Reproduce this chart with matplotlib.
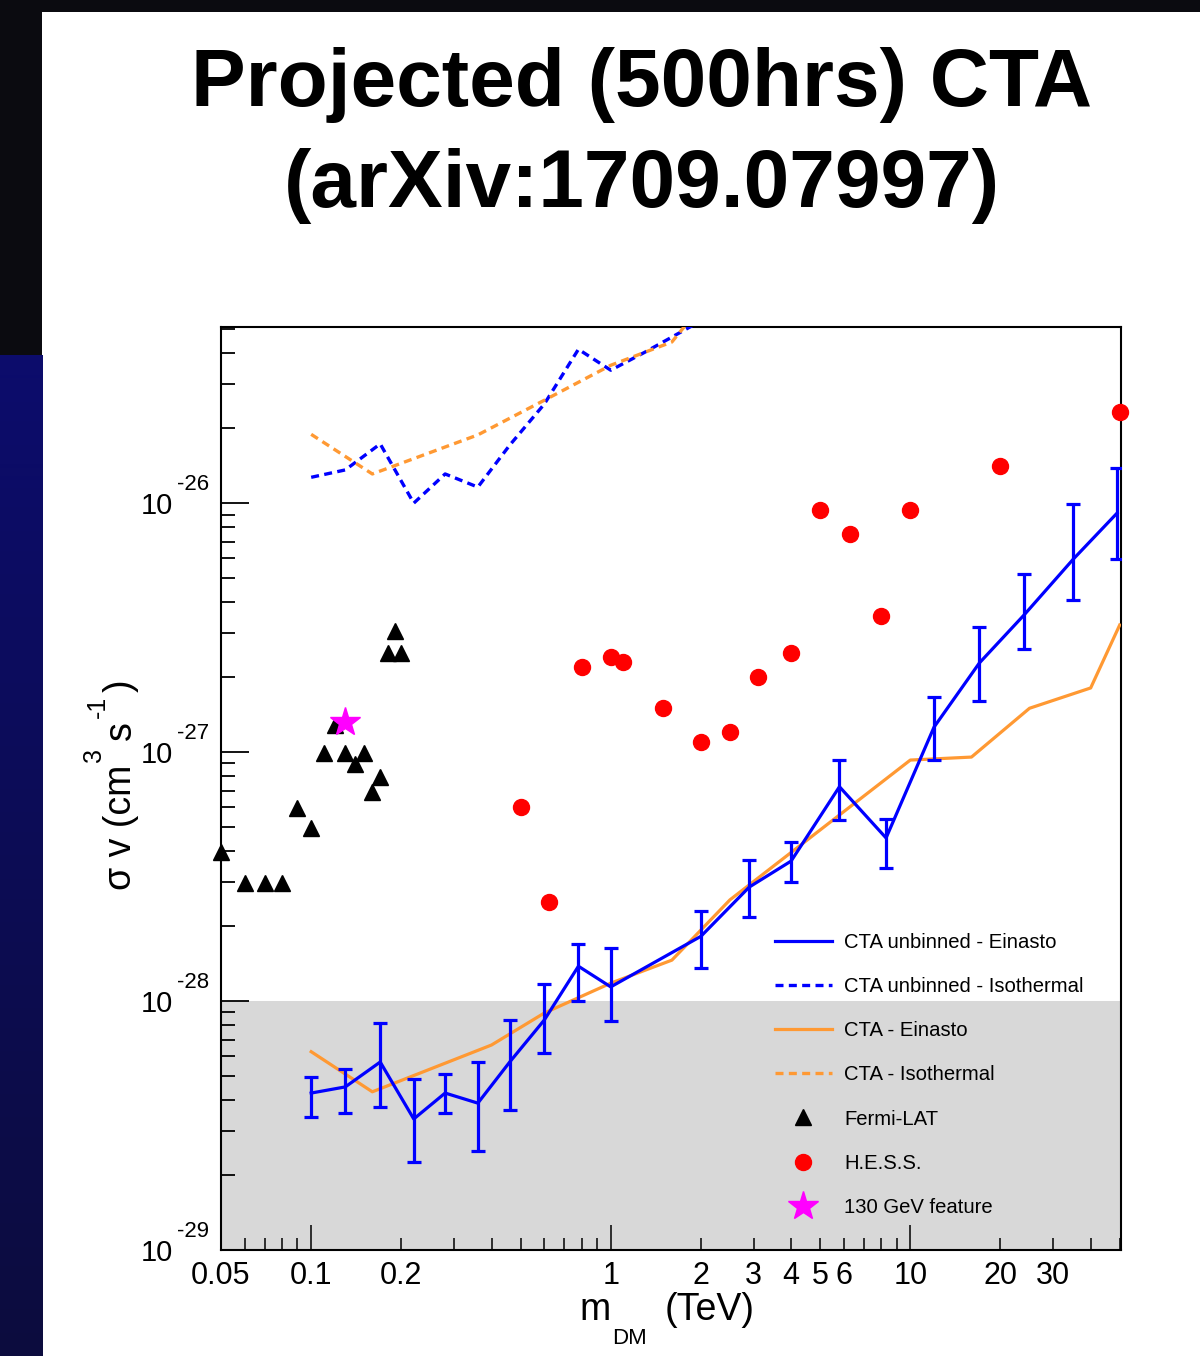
import matplotlib
matplotlib.use("Agg")
import matplotlib.pyplot as plt
import matplotlib.transforms as mtransforms
import numpy as np
from matplotlib.patches import Rectangle
from matplotlib.ticker import FixedLocator, FixedFormatter, NullFormatter

plt.rcParams["font.family"] = ["Liberation Sans", "DejaVu Sans"]

# CTA unbinned - Einasto (with error bars)
unb_ein_m = [0.1, 0.13, 0.17, 0.22, 0.28, 0.36, 0.46, 0.6, 0.78, 1.0,
             2.0, 2.9, 4.0, 5.8, 8.3, 12.0, 17.0, 24.0, 35.0, 49.0]
unb_ein_sv = [4.27e-29, 4.52e-29, 5.69e-29, 3.36e-29, 4.27e-29, 3.89e-29, 5.69e-29, 8.39e-29, 1.38e-28, 1.14e-28,
              1.82e-28, 2.87e-28, 3.65e-28, 7.26e-28, 4.52e-28, 1.26e-27, 2.28e-27, 3.56e-27, 5.96e-27, 9.12e-27]
unb_ein_hi = [4.95e-29, 5.33e-29, 8.16e-29, 4.86e-29, 5.09e-29, 5.69e-29, 8.39e-29, 1.17e-28, 1.69e-28, 1.63e-28,
              2.30e-28, 3.68e-28, 4.35e-28, 9.29e-28, 5.38e-28, 1.66e-27, 3.18e-27, 5.19e-27, 9.9e-27, 1.38e-26]
unb_ein_lo = [3.42e-29, 3.55e-29, 3.75e-29, 2.26e-29, 3.55e-29, 2.50e-29, 3.65e-29, 6.18e-29, 1.0e-28, 8.3e-29,
              1.36e-28, 2.17e-28, 3.0e-28, 5.33e-28, 3.42e-28, 9.29e-28, 1.60e-27, 2.59e-27, 4.07e-27, 5.96e-27]

# CTA unbinned - Isothermal
unb_iso_m = [0.1, 0.13, 0.17, 0.22, 0.28, 0.36, 0.46, 0.6, 0.78, 1.0, 1.3, 2.0]
unb_iso_sv = [1.27e-26, 1.36e-26, 1.73e-26, 1.0e-26, 1.31e-26, 1.16e-26, 1.71e-26, 2.50e-26, 4.15e-26, 3.42e-26,
              4.04e-26, 5.4e-26]

# CTA - Einasto
cta_ein_m = [0.1, 0.16, 0.4, 0.6, 1.0, 1.6, 2.5, 10.0, 16.0, 25.0, 40.0, 50.0]
cta_ein_sv = [6.26e-29, 4.32e-29, 6.66e-29, 8.95e-29, 1.18e-28, 1.46e-28, 2.55e-28, 9.29e-28, 9.55e-28, 1.50e-27,
              1.81e-27, 3.24e-27]

# CTA - Isothermal
cta_iso_m = [0.1, 0.16, 0.36, 0.6, 1.0, 1.6, 2.5]
cta_iso_sv = [1.89e-26, 1.31e-26, 1.88e-26, 2.59e-26, 3.58e-26, 4.44e-26, 8.6e-26]

# Fermi-LAT
fermi_m = [0.05, 0.06, 0.07, 0.08, 0.09, 0.1, 0.11, 0.12, 0.13, 0.14, 0.15, 0.16, 0.17, 0.18, 0.19, 0.2]
fermi_sv = [3.97e-28, 2.98e-28, 2.98e-28, 2.98e-28, 5.96e-28, 4.95e-28, 9.9e-28, 1.28e-27, 9.9e-28, 8.95e-28,
            9.9e-28, 6.9e-28, 7.94e-28, 2.50e-27, 3.06e-27, 2.50e-27]

# H.E.S.S.
hess_m = [0.5, 0.62, 0.8, 1.0, 1.1, 1.5, 2.0, 2.5, 3.1, 4.0, 5.0, 6.3, 8.0, 10.0, 20.0, 50.0]
hess_sv = [6.0e-28, 2.5e-28, 2.19e-27, 2.41e-27, 2.30e-27, 1.50e-27, 1.10e-27, 1.20e-27, 2.0e-27, 2.5e-27,
           9.37e-27, 7.51e-27, 3.52e-27, 9.37e-27, 1.41e-26, 2.32e-26]

# 130 GeV feature
line_m = [0.13]
line_sv = [1.32e-27]

x_tick_labels = {0.05: "0.05", 0.1: "0.1", 0.2: "0.2", 1: "1", 2: "2", 3: "3", 4: "4",
                 5: "5", 6: "6", 10: "10", 20: "20", 30: "30"}
y_decades = [-29, -28, -27, -26]

BLUE = "#0000ff"
ORANGE = "#ff9933"

W, H = 1200, 1356
PX = 72.0 / 100  # points per pixel
fig = plt.figure(figsize=(W / 100, H / 100), dpi=100, facecolor="#0b0b10")

# slide background: white panel, navy strip on the left
fig.patches.append(Rectangle((42 / W, 0), 1 - 42 / W, (H - 12) / H, transform=fig.transFigure,
                             facecolor="white", edgecolor="none", zorder=-10))
strip = fig.add_axes([0, 0, 42 / W, (H - 355) / H])
strip.set_axis_off()
grad = np.linspace(0, 1, 256).reshape(-1, 1)
top_c = np.array([12, 12, 108]) / 255
bot_c = np.array([12, 12, 62]) / 255
img = (top_c[None, None, :] * (1 - grad[:, :, None]) + bot_c[None, None, :] * grad[:, :, None])
strip.imshow(img, aspect="auto", extent=[0, 1, 0, 1], origin="upper")

fig.text(642 / W, 1 - 85 / H, "Projected (500hrs) CTA", ha="center", va="center",
         fontsize=59, fontweight="bold", color="black")
fig.text(642 / W, 1 - 186 / H, "(arXiv:1709.07997)", ha="center", va="center",
         fontsize=59, fontweight="bold", color="black")

ax = fig.add_axes([221 / W, 106 / H, 900 / W, 923 / H])
ax.set_zorder(5)
ax.set_xscale("log")
ax.set_yscale("log")
ax.set_xlim(0.05, 50.5)
ax.set_ylim(1e-29, 5.1e-26)
ax.set_facecolor("white")

ax.axhspan(1e-29, 1e-28, facecolor="#d8d8d8", edgecolor="none", zorder=0)

ax.plot(unb_ein_m, unb_ein_sv, color=BLUE, lw=2.3, zorder=4, label="CTA unbinned - Einasto")
ein = np.array(unb_ein_sv)
yerr = [ein - np.array(unb_ein_lo), np.array(unb_ein_hi) - ein]
ax.errorbar(unb_ein_m, unb_ein_sv, yerr=yerr, fmt="none", ecolor=BLUE, elinewidth=2.3,
            capsize=4.8, capthick=2.3, zorder=4)
ax.plot(unb_iso_m, unb_iso_sv, color=BLUE, lw=2.4, dashes=(2.4, 1.6), zorder=3,
        label="CTA unbinned - Isothermal")
ax.plot(cta_ein_m, cta_ein_sv, color=ORANGE, lw=2.3, zorder=3, label="CTA - Einasto")
ax.plot(cta_iso_m, cta_iso_sv, color=ORANGE, lw=2.4, dashes=(2.4, 1.6), zorder=3,
        label="CTA - Isothermal")
ax.plot(fermi_m, fermi_sv, ls="none", marker="^", ms=11, color="black", zorder=5,
        clip_on=False, label="Fermi-LAT")
ax.plot(hess_m, hess_sv, ls="none", marker="o", ms=11.5, color="#ff0000", zorder=5,
        clip_on=False, label="H.E.S.S.")
ax.plot(line_m, line_sv, ls="none", marker="*", ms=22, color="#ff00ff", mec="#ff00ff", zorder=6,
        label="130 GeV feature")

ax.legend(loc="upper left", bbox_to_anchor=((775 - 221) / 900, (1250 - 933) / 923),
          frameon=False, fontsize=14.6, handlelength=2.8, handletextpad=0.62,
          labelspacing=1.24, borderpad=0, borderaxespad=0)

# axis ticks, ROOT style
ax.xaxis.set_major_locator(FixedLocator([0.1, 1, 10]))
minor_x = [v * d for d in (0.01, 0.1, 1, 10) for v in range(2, 10) if 0.05 <= v * d <= 50]
ax.xaxis.set_minor_locator(FixedLocator(minor_x))
ax.xaxis.set_major_formatter(FixedFormatter(["0.1", "1", "10"]))
ax.xaxis.set_minor_formatter(FixedFormatter([x_tick_labels.get(round(v, 3), "") for v in minor_x]))

ax.yaxis.set_major_locator(FixedLocator([10.0 ** d for d in y_decades]))
ax.yaxis.set_major_formatter(NullFormatter())
minor_y = [v * 10.0 ** d for d in (-29, -28, -27, -26) for v in range(2, 10) if v * 10.0 ** d < 5.1e-26]
ax.yaxis.set_minor_locator(FixedLocator(minor_y))
ax.yaxis.set_minor_formatter(NullFormatter())

ax.tick_params(axis="x", which="major", direction="in", length=18, width=1.1, labelsize=22, pad=8,
               top=False)
ax.tick_params(axis="x", which="minor", direction="in", length=9, width=1.1, labelsize=22, pad=8,
               top=False)
ax.tick_params(axis="y", which="major", direction="in", length=20, width=1.3, right=False)
ax.tick_params(axis="y", which="minor", direction="in", length=10, width=1.3, right=False)
for sp in ax.spines.values():
    sp.set_linewidth(1.5)

# y tick labels "10" with a raised exponent
blend = mtransforms.blended_transform_factory(ax.transAxes, ax.transData)
for d in y_decades:
    t_base = mtransforms.offset_copy(blend, fig, x=-48 * PX, y=-11 * PX, units="points")
    ax.text(0, 10.0 ** d, "10", transform=t_base, ha="right", va="baseline", fontsize=21, clip_on=False)
    t_exp = mtransforms.offset_copy(blend, fig, x=-44 * PX, y=13 * PX, units="points")
    ax.text(0, 10.0 ** d, str(d), transform=t_exp, ha="left", va="baseline", fontsize=16, clip_on=False)

# x axis title
fig.text(595 / W, 1 - 1310 / H, "m", ha="center", va="center", fontsize=27)
fig.text(630 / W, 1 - 1338 / H, "DM", ha="center", va="center", fontsize=16)
fig.text(710 / W, 1 - 1310 / H, "(TeV)", ha="center", va="center", fontsize=27)

# y axis title, pieces chained upward along a vertical baseline
fig.canvas.draw()
renderer = fig.canvas.get_renderer()
pieces = [("σ v (cm", 27, 0, 0), ("3", 18, 30, 3), ("s", 27, 0, 8), ("-1", 18, 26, 3), (")", 27, 0, 3)]
base_x = 131
y_pos = 890
for txt, size, lift, gap in pieces:
    y_pos -= gap
    t = fig.text((base_x - lift) / W, 1 - y_pos / H, txt, rotation=90, rotation_mode="anchor",
                 ha="left", va="baseline", fontsize=size)
    bb = t.get_window_extent(renderer)
    y_pos -= bb.height

fig.savefig("out.png", dpi=100, facecolor=fig.get_facecolor())
